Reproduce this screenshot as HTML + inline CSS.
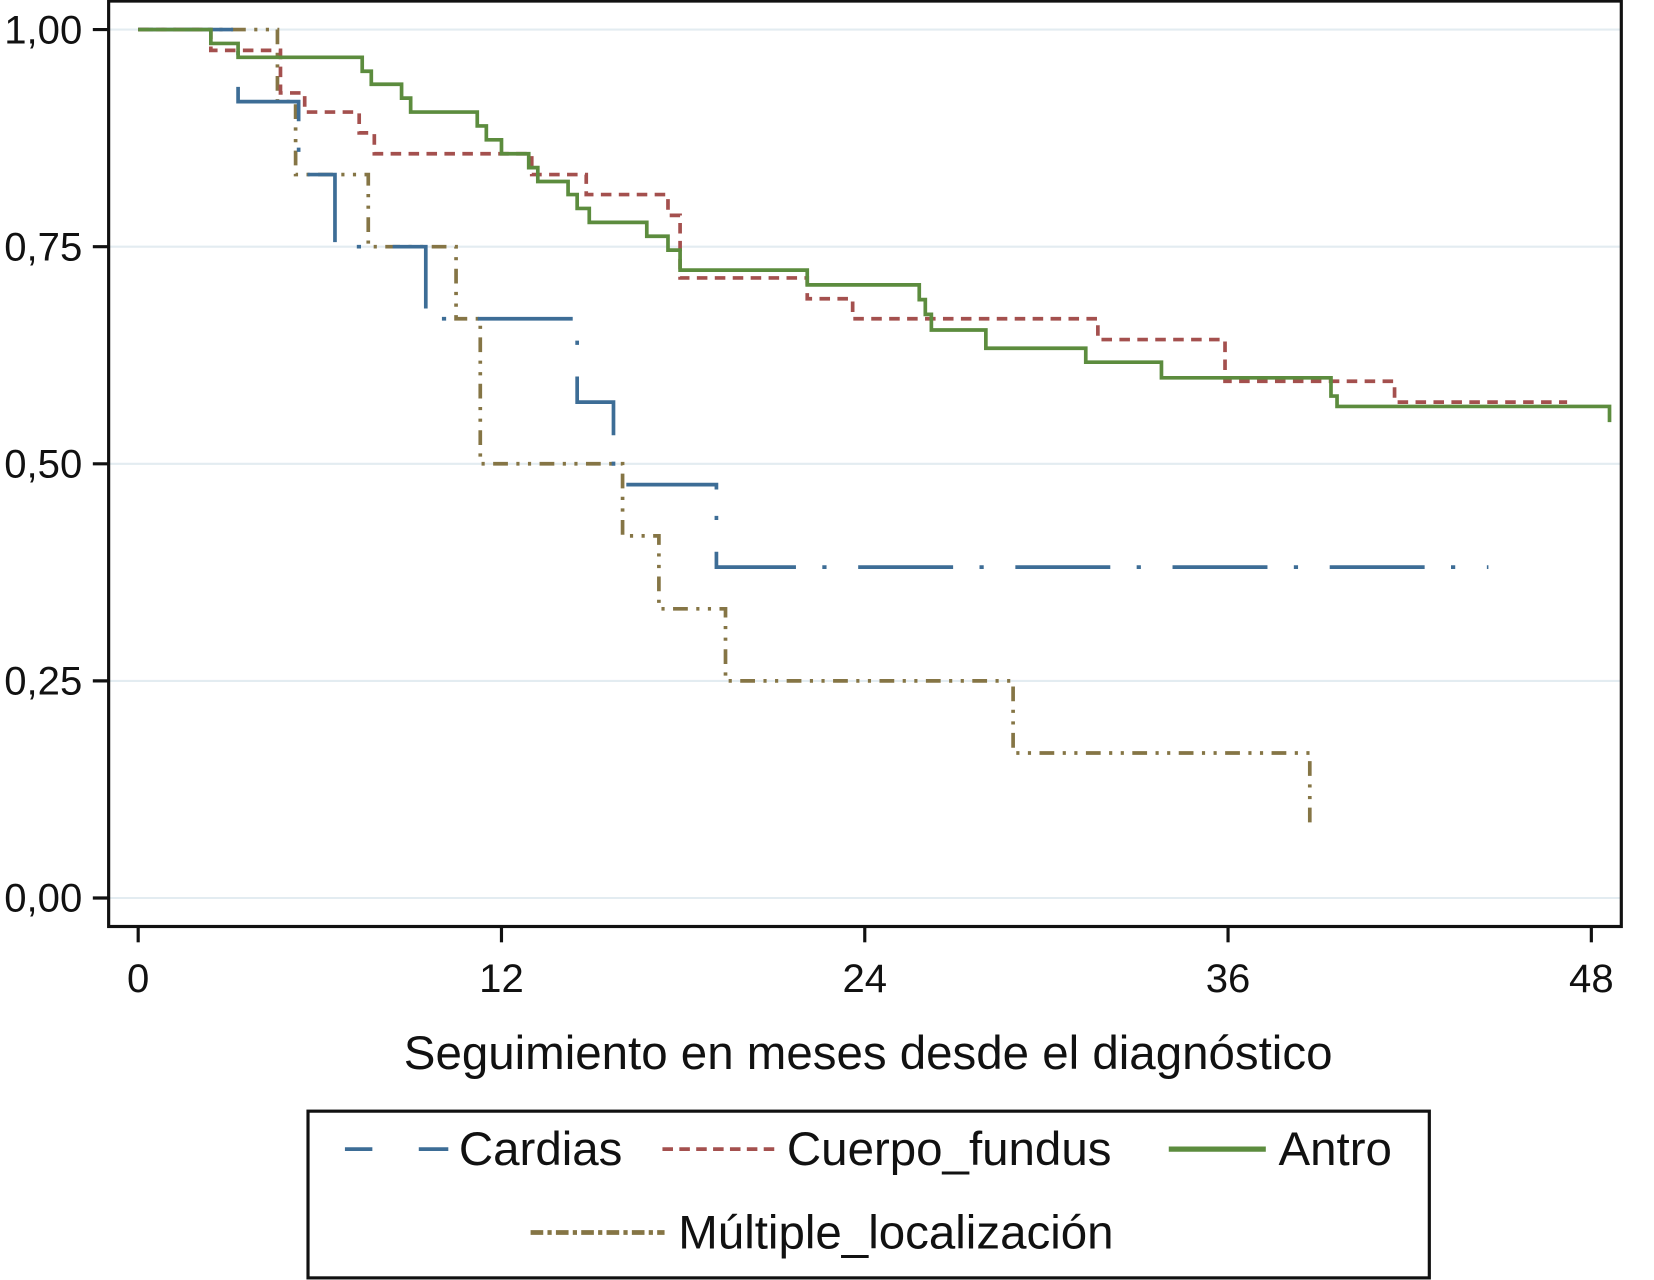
<!DOCTYPE html>
<html><head><meta charset="utf-8"><style>
html,body{margin:0;padding:0;background:#fff;}
svg{display:block;font-family:"Liberation Sans",Arial,sans-serif;}
</style></head><body>
<svg id="chart" width="1654" height="1280" viewBox="0 0 1568 1213" preserveAspectRatio="none" xmlns="http://www.w3.org/2000/svg">
<g id="grid"></g>
<rect x="103" y="1" width="1434" height="877" fill="none" stroke="#111" stroke-width="3"/>
<g id="yaxis"></g>
<g id="xaxis"></g>
<g id="series"></g>
<text x="823" y="1013" font-size="45" text-anchor="middle" fill="#111">Seguimiento en meses desde el diagnóstico</text>
<g>
<rect x="292" y="1053" width="1063" height="158" fill="#fff" stroke="#111" stroke-width="3"/>
<g><line x1="327" y1="1089" x2="425" y2="1089" stroke="#3d6d96" stroke-width="3.5" stroke-dasharray="26 44 28"/><text x="435" y="1104" font-size="45" fill="#111">Cardias</text></g>
<g><line x1="628" y1="1089" x2="734" y2="1089" stroke="#a4504e" stroke-width="3.5" stroke-dasharray="10 6"/><text x="746" y="1104" font-size="45" fill="#111">Cuerpo_fundus</text></g>
<g><line x1="1108" y1="1089" x2="1200" y2="1089" stroke="#5c8c3e" stroke-width="5"/><text x="1212" y="1104" font-size="45" fill="#111">Antro</text></g>
<g><line x1="503" y1="1168" x2="630" y2="1168" stroke="#857545" stroke-width="4.5" stroke-dasharray="12 4 4 4"/><text x="643" y="1183" font-size="45" fill="#111">Múltiple_localización</text></g>
</g>
</svg>
<script>
const xTicks=[0,12,24,36,48];
const yTicks=[0,0.25,0.5,0.75,1];
const yTickLabels=["0,00","0,25","0,50","0,75","1,00"];
const cardiasT=[0,3.3,5.3,6.5,9.5,14.5,15.7,19.1];
const cardiasS=[1,0.917,0.833,0.75,0.667,0.571,0.476,0.381];
const cardiasEnd=44.6;
const fundusT=[0,2.4,4.7,5.5,7.3,7.8,13.0,14.8,17.5,17.9,22.1,23.6,31.7,35.9,41.5];
const fundusS=[1,0.976,0.927,0.905,0.881,0.857,0.833,0.81,0.786,0.714,0.69,0.667,0.643,0.595,0.571];
const fundusEnd=47.2;
const antroT=[0,2.4,3.3,7.4,7.7,8.7,9.0,11.2,11.5,12.0,12.9,13.2,14.2,14.5,14.9,16.8,17.5,17.9,22.1,25.8,26.0,26.2,28.0,31.3,33.8,39.4,39.6,48.6];
const antroS=[1,0.984,0.968,0.952,0.937,0.921,0.905,0.889,0.873,0.857,0.841,0.825,0.81,0.794,0.778,0.762,0.746,0.723,0.706,0.689,0.672,0.654,0.633,0.617,0.599,0.578,0.566,0.548];
const antroEnd=48.6;
const multT=[0,4.6,5.2,7.6,10.5,11.3,16.0,17.2,19.4,28.9,38.7];
const multS=[1,0.917,0.833,0.75,0.667,0.5,0.417,0.333,0.25,0.167,0.083];
const multEnd=38.7;

const NS="http://www.w3.org/2000/svg";
const xs=t=>131+t*28.7;
const ys=v=>851-v*823;
function mk(tag,attrs,parent){const e=document.createElementNS(NS,tag);for(const k in attrs)e.setAttribute(k,attrs[k]);parent.appendChild(e);return e;}
const grid=document.getElementById('grid'),ya=document.getElementById('yaxis'),xa=document.getElementById('xaxis'),ser=document.getElementById('series');
yTicks.forEach((v,i)=>{
  const g=mk('line',{x1:103,x2:1537,y1:ys(v),y2:ys(v),stroke:'#e3ecf1','stroke-width':2},grid);
  
  
  const t=mk('line',{x1:88,x2:103,y1:ys(v),y2:ys(v),stroke:'#111','stroke-width':3},ya);
  
  
  const l=mk('text',{x:78,y:ys(v)+13,'font-size':38,'text-anchor':'end',fill:'#111'},ya);
  l.textContent=yTickLabels[i];
  
  
});
xTicks.forEach(v=>{
  const t=mk('line',{x1:xs(v),x2:xs(v),y1:878,y2:893,stroke:'#111','stroke-width':3},xa);
  
  
  const l=mk('text',{x:xs(v),y:940,'font-size':38,'text-anchor':'middle',fill:'#111'},xa);
  l.textContent=String(v);
  
  
});
function stepPath(T,S,end){let d='M'+xs(T[0])+' '+ys(S[0]);for(let i=1;i<T.length;i++){d+=' H'+xs(T[i])+' V'+ys(S[i]);}d+=' H'+xs(end);return d;}
const p1=mk('path',{d:stepPath(multT,multS,multEnd),fill:'none',stroke:'#857545','stroke-width':3.5,'stroke-dasharray':'14 8 3 8 3 8'},ser);


const p2=mk('path',{d:stepPath(cardiasT,cardiasS,cardiasEnd),fill:'none',stroke:'#3d6d96','stroke-width':3.5,'stroke-dasharray':'90 25 4 30'},ser);


const p3=mk('path',{d:stepPath(fundusT,fundusS,fundusEnd),fill:'none',stroke:'#a4504e','stroke-width':3.5,'stroke-dasharray':'10 7'},ser);


const p4=mk('path',{d:stepPath(antroT,antroS,antroEnd),fill:'none',stroke:'#5c8c3e','stroke-width':3.5},ser);


</script>
</body></html>
